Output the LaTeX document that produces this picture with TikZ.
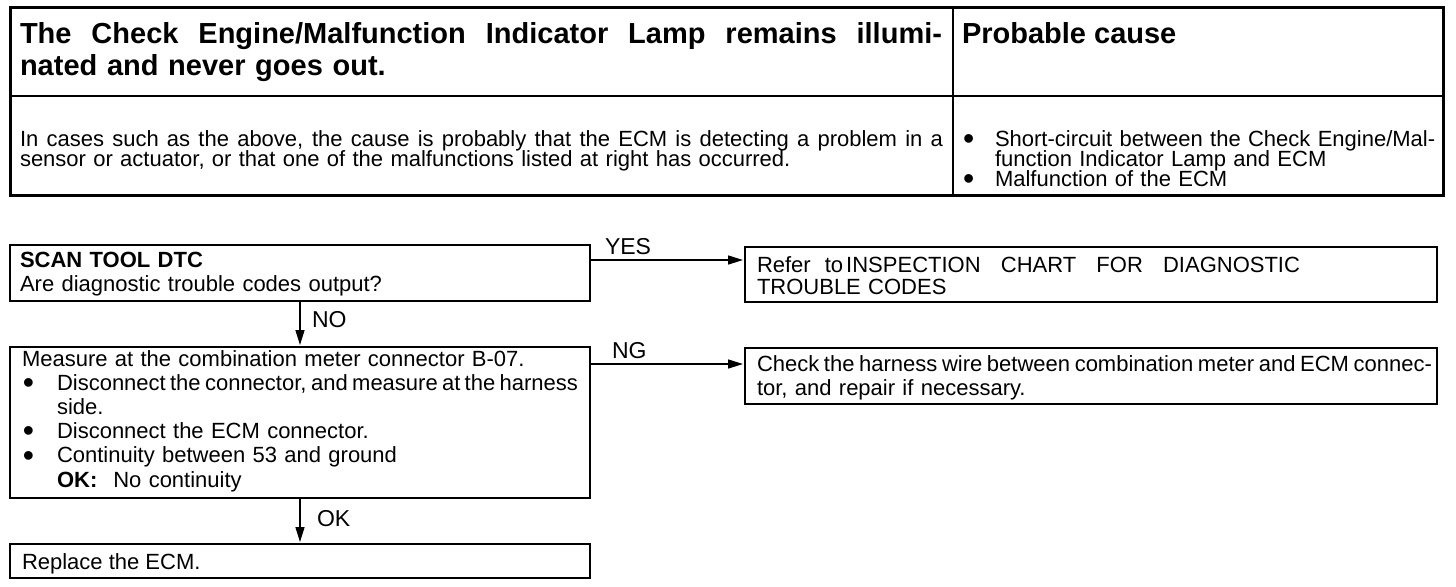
\documentclass[tikz,border=0pt]{standalone}
\usepackage{fontspec}
\setmainfont{Liberation Sans}
\usetikzlibrary{arrows.meta}
\newcommand{\fs}[2]{\fontsize{#1}{#2}\selectfont\lineskiplimit=-100pt\relax}
\newcommand{\bul}[1]{\makebox[#1][l]{\hspace{0.5pt}\raisebox{-1.6pt}{\fontsize{16}{16}\selectfont\textbullet}}}
\newcommand{\jl}[3][.278em]{\hbox to #2{\spaceskip=#1 plus 1fil\relax #3}}
\begin{document}
\begin{tikzpicture}[x=0.5pt,y=-0.5pt,
  every node/.style={inner sep=0pt, outer sep=0pt},
  fbox/.style={draw, line width=0.7pt, rectangle, anchor=north west},
  txt/.style={anchor=base west, align=left},
  lbl/.style={anchor=base west, font=\fs{11.5}{12}},
  arr/.style={line width=0.75pt, -{Triangle[length=7.5pt,width=4.5pt]}, shorten >=1pt},
  tline/.style={line width=1.5pt},
  sepline/.style={line width=0.6pt},
  divline/.style={line width=1pt}]
\useasboundingbox (0,0) rectangle (1456,586);
% table
\coordinate (tl) at (10,7);
\coordinate (br) at (1443,195);
\coordinate (sl) at (10,96);
\coordinate (sr) at (1443,96);
\coordinate (dt) at (953,7);
\coordinate (db) at (953,195);
\draw[tline] (tl) rectangle (br);
\draw[sepline] (sl) -- (sr);
\draw[divline] (dt) -- (db);
\node[txt, font=\fs{14.5}{16}\bfseries, text width=462pt] (head) at (20,43)
  {\jl{461pt}{The Check Engine/Malfunction Indicator Lamp remains illumi-}\newline nated and never goes out.};
\node[txt, font=\fs{14.5}{16}\bfseries] (headr) at (962,43) {Probable cause};
\node[txt, font=\fs{11}{10}, text width=470pt] (body) at (20,146)
  {\jl{461.5pt}{In cases such as the above, the cause is probably that the ECM is detecting a problem in a}\newline sensor or actuator, or that one of the malfunctions listed at right has occurred.};
\node[txt, font=\fs{11}{10}, text width=242pt] (cause) at (962,146)
  {\bul{16.5pt}Short-circuit between the Check Engine/Mal-\newline\hspace*{16.5pt}function Indicator Lamp and ECM\newline\bul{16.5pt}Malfunction of the ECM};
% flowchart boxes
\node[fbox, minimum width=290pt, minimum height=28pt] (q) at (10,245) {};
\node[fbox, minimum width=346pt, minimum height=27.5pt] (ref) at (745,247) {};
\node[fbox, minimum width=290pt, minimum height=75.5pt] (meas) at (10,347) {};
\node[fbox, minimum width=346pt, minimum height=28pt] (harn) at (745,348) {};
\node[fbox, minimum width=290pt, minimum height=17pt] (repl) at (10,544) {};
% texts
\node[txt, font=\fs{11}{12}, text width=285pt] (qt) at (20,267)
  {\textbf{SCAN TOOL DTC}\newline Are diagnostic trouble codes output?};
\node[txt, font=\fs{11}{11}, text width=340pt] (reft) at (757,272)
  {\hbox to 271.5pt{Refer\hskip 4pt plus 1fil to\hskip 1.5pt INSPECTION\hskip 4pt plus 2fil CHART\hskip 4pt plus 2fil FOR\hskip 4pt plus 2fil DIAGNOSTIC}\newline TROUBLE CODES};
\node[txt, font=\fs{11}{12.1}, text width=285pt] (meast) at (22,366)
  {Measure at the combination meter connector B-07.\newline
   \bul{17.5pt}\jl[.15em]{260.5pt}{Disconnect the connector, and measure at the harness}\newline
   \hspace*{17.5pt}side.\newline
   \bul{17.5pt}Disconnect the ECM connector.\newline
   \bul{17.5pt}Continuity between 53 and ground\newline
   \hspace*{17.5pt}\textbf{OK:}\hspace{8pt}No continuity};
\node[txt, font=\fs{11}{12}, text width=345pt] (harnt) at (757,371)
  {\jl[.18em]{337.5pt}{Check the harness wire between combination meter and ECM connec-}\newline tor, and repair if necessary.};
\node[txt, font=\fs{11}{12}] (replt) at (22,569) {Replace the ECM.};
% labels
\node[lbl] (yes) at (605,254) {YES};
\node[lbl] (ng) at (612,358) {NG};
\node[lbl] (no) at (312,327) {NO};
\node[lbl] (ok) at (317,526) {OK};
% connectors
\coordinate (yy) at (0,260);
\coordinate (ny) at (0,364);
\draw[arr] (q.east |- yy) -- (ref.west |- yy);
\draw[arr] (meas.east |- ny) -- (harn.west |- ny);
\draw[arr] (q.south) -- (meas.north);
\draw[arr] (meas.south) -- (repl.north);
\end{tikzpicture}
\end{document}
